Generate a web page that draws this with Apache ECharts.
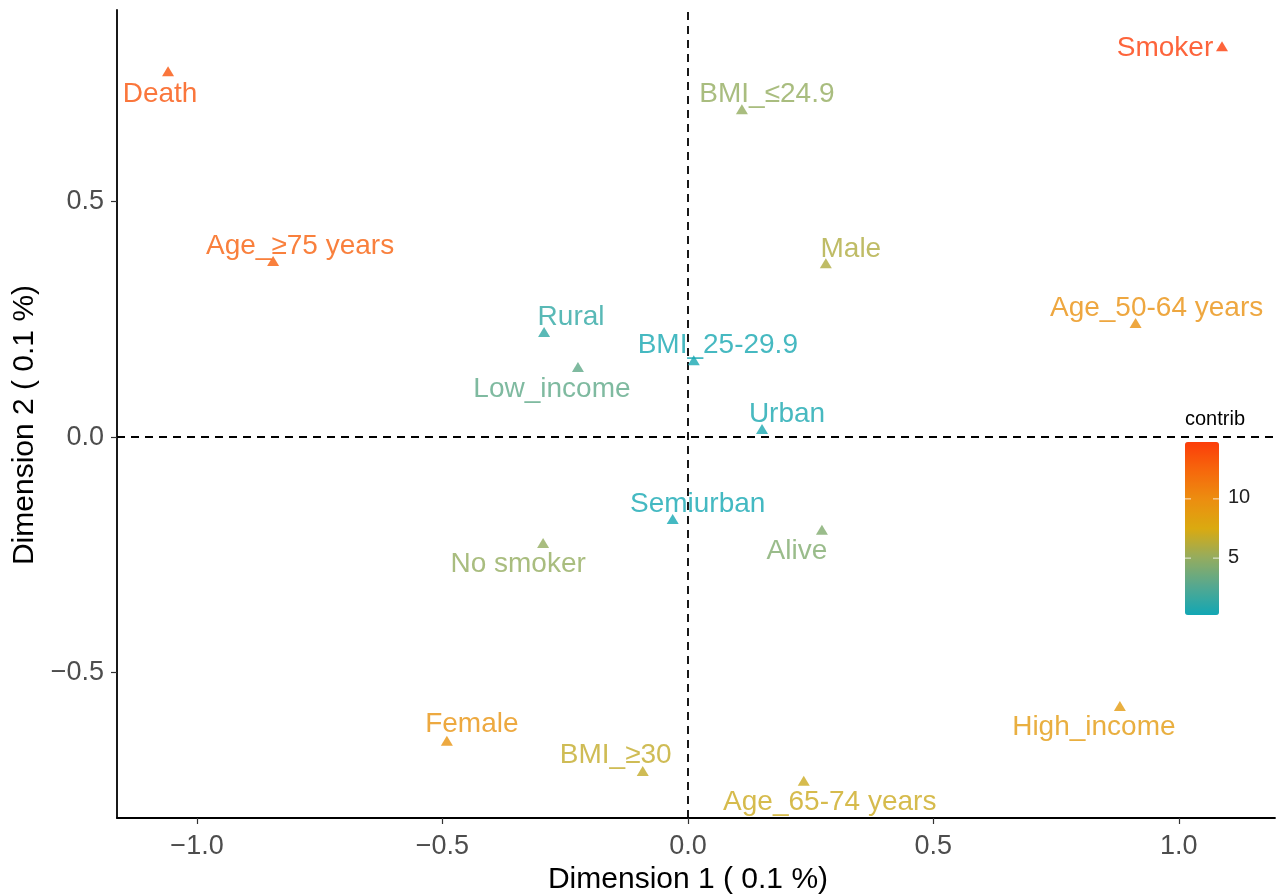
<!DOCTYPE html>
<html>
<head>
<meta charset="utf-8">
<script src="https://cdn.jsdelivr.net/npm/echarts@6/dist/echarts.min.js"></script>
<style>
  html, body { margin: 0; padding: 0; background: #fff; }
  #chart { width: 1279px; height: 895px; }
</style>
</head>
<body>
<div id="chart"></div>
<script>
// categories of the MCA plot
var names = ["Death", "Smoker", "BMI_\u226424.9", "Age_\u226575 years", "Male", "Age_50-64 years",
    "Rural", "BMI_25-29.9", "Low_income", "Urban", "Semiurban", "Alive", "No smoker",
    "High_income", "Female", "BMI_\u226530", "Age_65-74 years"];
var dim1 = [-1.059, 1.088, 0.110, -0.845, 0.281, 0.912, -0.293, 0.012, -0.224, 0.151, -0.031,
    0.273, -0.295, 0.880, -0.491, -0.092, 0.236];
var dim2 = [0.777, 0.830, 0.696, 0.374, 0.369, 0.242, 0.223, 0.163, 0.149, 0.017, -0.174,
    -0.197, -0.225, -0.571, -0.645, -0.709, -0.730];
var contrib = [13.5, 14.8, 5.0, 12.8, 6.0, 9.7, 1.3, 0.4, 3.0, 0.5, 0.3, 4.3, 5.0,
    8.8, 9.5, 6.7, 7.0];
var xTicks = [-1, -0.5, 0, 0.5, 1];
var yTicks = [-0.5, 0, 0.5];
var legendTicks = [5, 10];
// colour ramp, low -> high
var rampColors = ["#12A7B4", "#55A890", "#95AC5E", "#DAAA10", "#EC8E10", "#F6680C", "#FC3D0A"];

// label offsets (like ggrepel) in pixels, layout only
var labelOffsets = {
    "Death": [-8, 23], "Smoker": [-57, 2], "BMI_\u226424.9": [25, -15],
    "Age_\u226575 years": [27, -15], "Male": [25, -14], "Age_50-64 years": [21, -15],
    "Rural": [27, -15], "BMI_25-29.9": [24, -15], "Low_income": [-26, 22],
    "Urban": [25, -15], "Semiurban": [25, -15], "Alive": [-25, 21],
    "No smoker": [-25, 21], "High_income": [-26, 21], "Female": [25, -16],
    "BMI_\u226530": [-27, -16], "Age_65-74 years": [26, 21]
};

var cMin = 0.2, cMax = 14.8;
var barTop = 442, barH = 173, barLeft = 1185, barW = 34;
var FONT = "'Liberation Sans', Arial, sans-serif";

function fmt(v) {
    var s = Math.abs(v).toFixed(1);
    return v < 0 ? "\u2212" + s : s;
}

var data = names.map(function (n, i) {
    return { name: n, value: [dim1[i], dim2[i], contrib[i]] };
});

var graphics = [{
    type: "text", left: barLeft, top: barTop - 33,
    style: { text: "contrib", font: "20px " + FONT, fill: "#000" }
}];
legendTicks.forEach(function (t) {
    var y = barTop + (cMax - t) / (cMax - cMin) * barH;
    graphics.push({
        type: "text", left: barLeft + barW + 9, top: y - 11,
        style: { text: String(t), font: "20px " + FONT, fill: "#222" }
    });
    graphics.push({
        type: "line", shape: { x1: barLeft, y1: y, x2: barLeft + 6, y2: y },
        style: { stroke: "rgba(255,255,255,0.8)", lineWidth: 1 }, z: 100
    });
    graphics.push({
        type: "line", shape: { x1: barLeft + barW - 6, y1: y, x2: barLeft + barW, y2: y },
        style: { stroke: "rgba(255,255,255,0.8)", lineWidth: 1 }, z: 100
    });
});

var chart = echarts.init(document.getElementById("chart"));

var option = {
    animation: false,
    backgroundColor: "#fff",
    textStyle: { fontFamily: FONT },
    grid: { left: 117, right: 4, top: 10, bottom: 77, containLabel: false, outerBoundsMode: "none" },
    xAxis: {
        type: "value", min: -1.163, max: 1.196,
        name: "Dimension 1 ( 0.1 %)", nameLocation: "middle", nameGap: 45,
        nameTextStyle: { fontSize: 30, color: "#000", padding: [0, 16, 0, 0] },
        splitLine: { show: false },
        axisLine: { onZero: false, lineStyle: { color: "#000", width: 1.8 } },
        axisTick: { show: true, length: 6, customValues: xTicks, lineStyle: { color: "#333", width: 1.2 } },
        axisLabel: { customValues: xTicks, formatter: fmt, fontSize: 27, color: "#4d4d4d", margin: 15 }
    },
    yAxis: {
        type: "value", min: -0.809, max: 0.907,
        name: "Dimension 2 ( 0.1 %)", nameLocation: "middle", nameGap: 71, nameRotate: 90,
        nameTextStyle: { fontSize: 30, color: "#000", padding: [0, 22, 0, 0] },
        splitLine: { show: false },
        axisLine: { onZero: false, lineStyle: { color: "#000", width: 1.8 } },
        axisTick: { show: true, length: 6, customValues: yTicks, lineStyle: { color: "#333", width: 1.2 } },
        axisLabel: { customValues: yTicks, formatter: fmt, fontSize: 27, color: "#4d4d4d", margin: 13 }
    },
    visualMap: {
        type: "continuous", dimension: 2, min: cMin, max: cMax,
        calculable: false, realtime: false,
        left: barLeft, top: barTop, padding: 0,
        itemWidth: barW, itemHeight: barH,
        text: ["", ""], showLabel: false,
        inRange: { color: rampColors },
        hoverLink: false
    },
    graphic: graphics,
    series: [{
        type: "scatter",
        symbol: "triangle",
        symbolSize: [12, 10],
        data: data,
        label: {
            show: true,
            position: "inside",
            formatter: "{b}",
            color: "inherit",
            fontSize: 28,
            fontFamily: FONT,
            align: "center",
            verticalAlign: "middle"
        },
        labelLayout: function (p) {
            var o = labelOffsets[names[p.dataIndex]] || [0, -15];
            return { dx: o[0], dy: o[1], hideOverlap: false };
        },
        markLine: {
            silent: true,
            symbol: ["none", "none"],
            label: { show: false },
            lineStyle: { color: "#000", type: [8, 6], width: 1.8 },
            data: [{ xAxis: 0 }, { yAxis: 0 }]
        },
        z: 5
    }]
};

chart.setOption(option);
</script>
</body>
</html>
